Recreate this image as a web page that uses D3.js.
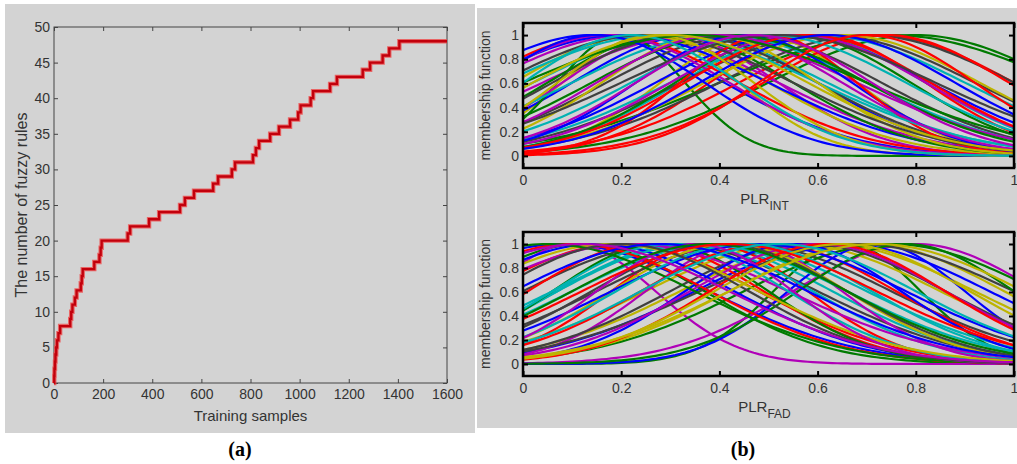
<!DOCTYPE html>
<html>
<head>
<meta charset="utf-8">
<script src="https://cdn.jsdelivr.net/npm/d3@7"></script>
<style>
  body { margin: 0; background: #fff; }
  svg { display: block; font-family: "Liberation Sans", Arial, sans-serif; }
  .cap { font-family: "Liberation Serif", "Times New Roman", serif; font-weight: bold; }
</style>
</head>
<body>
<svg id="fig" width="1017" height="464"></svg>
<script>
// (a) number of fuzzy rules vs training samples (step changes)
const ruleStart = [0, 1, 2, 4, 6, 9, 12, 18, 25, 66, 70, 75, 85, 92, 109, 113, 117, 164, 185, 190, 194, 300, 310, 387, 428, 513, 533, 570, 648, 668, 724, 737, 810, 822, 835, 880, 916, 961, 994, 1004, 1045, 1055, 1124, 1152, 1257, 1287, 1338, 1365, 1406, 1600];
const ruleCount = [0, 1, 2, 3, 4, 5, 6, 7, 8, 9, 10, 11, 12, 13, 14, 15, 16, 17, 18, 19, 20, 21, 22, 23, 24, 25, 26, 27, 28, 29, 30, 31, 32, 33, 34, 35, 36, 37, 38, 39, 40, 41, 42, 43, 44, 45, 46, 47, 48, 48];
const xTicksA = [0, 200, 400, 600, 800, 1000, 1200, 1400, 1600];
const yTicksA = [0, 5, 10, 15, 20, 25, 30, 35, 40, 45, 50];

// (b) gaussian membership functions, one per rule (center, width)
const intCenters = [0.14, 0.80, 0.72, 0.57, 0.22, 0.26, 0.45, 0.35, 0.20, 0.60, 0.32, 0.30, 0.48, 0.62, 0.55, 0.75, 0.17, 0.40, 0.36, 0.24, 0.70, 0.20, 0.30, 0.74, 0.60, 0.17, 0.65, 0.33, 0.45, 0.55, 0.50, 0.28, 0.56, 0.38, 0.25, 0.15, 0.42, 0.58, 0.50, 0.40, 0.27, 0.52, 0.62, 0.35, 0.70, 0.22, 0.47, 0.30];
const intSigmas  = [0.27, 0.30, 0.28, 0.25, 0.30, 0.18, 0.28, 0.25, 0.13, 0.22, 0.30, 0.22, 0.20, 0.30, 0.28, 0.35, 0.27, 0.30, 0.32, 0.26, 0.30, 0.30, 0.25, 0.25, 0.30, 0.25, 0.28, 0.27, 0.22, 0.24, 0.18, 0.32, 0.26, 0.22, 0.30, 0.22, 0.28, 0.25, 0.28, 0.25, 0.20, 0.32, 0.26, 0.35, 0.22, 0.22, 0.24, 0.28];
const fadCenters = [0.08, 0.66, 0.20, 0.35, 0.80, 0.55, 0.30, 0.65, 0.12, 0.38, 0.40, 0.10, 0.62, 0.45, 0.72, 0.75, 0.25, 0.33, 0.45, 0.70, 0.58, 0.15, 0.28, 0.50, 0.36, 0.22, 0.42, 0.68, 0.55, 0.78, 0.10, 0.30, 0.60, 0.18, 0.40, 0.48, 0.05, 0.62, 0.45, 0.35, 0.65, 0.20, 0.28, 0.38, 0.42, 0.52, 0.12, 0.72];
const fadSigmas  = [0.30, 0.15, 0.28, 0.28, 0.25, 0.30, 0.30, 0.30, 0.25, 0.20, 0.30, 0.17, 0.30, 0.30, 0.18, 0.30, 0.24, 0.26, 0.20, 0.28, 0.28, 0.28, 0.22, 0.26, 0.30, 0.32, 0.24, 0.32, 0.22, 0.22, 0.28, 0.24, 0.26, 0.30, 0.26, 0.30, 0.30, 0.24, 0.26, 0.20, 0.26, 0.26, 0.30, 0.28, 0.30, 0.28, 0.30, 0.30];
const xTicksB = [0, 0.2, 0.4, 0.6, 0.8, 1];
const yTicksB = [0, 0.2, 0.4, 0.6, 0.8, 1];
const lineColors = ["#0000ff", "#007a00", "#ff0000", "#00b2b2", "#b000b8", "#bdb400", "#404040"];

const svg = d3.select("#fig");
const fmtB = d => (d === 0 || d === 1) ? String(d) : d3.format(".1f")(d);

// ---------- panel (a) ----------
svg.append("rect").attr("x", 5).attr("y", 4).attr("width", 470).attr("height", 429).attr("fill", "#d3d3d3");

const ax = {l: 54, r: 447, t: 27, b: 383};
const xA = d3.scaleLinear().domain([0, 1600]).range([ax.l, ax.r]);
const yA = d3.scaleLinear().domain([0, 50]).range([ax.b, ax.t]);
const gA = svg.append("g");

function styleAxis(g, col, sw) {
  g.select(".domain").remove();
  g.selectAll(".tick line").attr("stroke", col).attr("stroke-width", sw);
  g.selectAll(".tick text").attr("fill", "#333").style("font-family", "Liberation Sans, Arial, sans-serif");
}

gA.append("g").attr("transform", `translate(0,${ax.b})`)
  .call(d3.axisBottom(xA).tickValues(xTicksA).tickSize(-4).tickSizeOuter(0).tickPadding(6).tickFormat(d3.format("d")))
  .call(g => { styleAxis(g, "#444", 1); g.selectAll("text").attr("font-size", 14); });
gA.append("g").attr("transform", `translate(0,${ax.t})`)
  .call(d3.axisTop(xA).tickValues(xTicksA).tickSize(-4).tickSizeOuter(0).tickFormat(""))
  .call(g => styleAxis(g, "#444", 1));
gA.append("g").attr("transform", `translate(${ax.l},0)`)
  .call(d3.axisLeft(yA).tickValues(yTicksA).tickSize(-4).tickSizeOuter(0).tickPadding(4).tickFormat(d3.format("d")))
  .call(g => { styleAxis(g, "#444", 1); g.selectAll("text").attr("font-size", 14); });
gA.append("g").attr("transform", `translate(${ax.r},0)`)
  .call(d3.axisRight(yA).tickValues(yTicksA).tickSize(-4).tickSizeOuter(0).tickFormat(""))
  .call(g => styleAxis(g, "#444", 1));
gA.append("rect").attr("x", ax.l).attr("y", ax.t).attr("width", ax.r - ax.l).attr("height", ax.b - ax.t)
  .attr("fill", "none").attr("stroke", "#444").attr("stroke-width", 1);

const stepPts = ruleStart.map((s, i) => [s, ruleCount[i]]);
const stepLine = d3.line().x(d => xA(d[0])).y(d => yA(d[1])).curve(d3.curveStepAfter);
gA.append("path").attr("d", stepLine(stepPts)).attr("fill", "none")
  .attr("stroke", "#ee4a4a").attr("stroke-width", 4.4).attr("stroke-opacity", 0.8);
gA.append("path").attr("d", stepLine(stepPts)).attr("fill", "none")
  .attr("stroke", "#c2000c").attr("stroke-width", 2.3);

gA.append("text").attr("x", (ax.l + ax.r) / 2).attr("y", 421).attr("text-anchor", "middle")
  .attr("font-size", 15).attr("fill", "#333").text("Training samples");
gA.append("text").attr("transform", `translate(27,${(ax.t + ax.b) / 2}) rotate(-90)`)
  .attr("text-anchor", "middle").attr("font-size", 16).attr("fill", "#333").text("The number of fuzzy rules");

svg.append("text").attr("class", "cap").attr("x", 240).attr("y", 456).attr("text-anchor", "middle")
  .attr("font-size", 20).text("(a)");

// ---------- panel (b) ----------
svg.append("rect").attr("x", 477).attr("y", 8).attr("width", 540).attr("height", 420).attr("fill", "#d3d3d3");

const xB = d3.scaleLinear().domain([0, 1]).range([523, 1014]);
const grid = d3.range(0, 101).map(i => i / 100);

function memPanel(top, bottom, centers, sigmas, sub, id) {
  const yB = d3.scaleLinear().domain([-0.1, 1.1]).range([bottom, top]);
  const g = svg.append("g");
  g.append("clipPath").attr("id", id).append("rect")
    .attr("x", xB(0)).attr("y", top).attr("width", xB(1) - xB(0)).attr("height", bottom - top);

  const line = d3.line().x(d => xB(d[0])).y(d => yB(d[1]));
  const curves = g.append("g").attr("clip-path", `url(#${id})`);
  centers.forEach((c, i) => {
    const s = sigmas[i];
    const pts = grid.map(x => [x, Math.exp(-((x - c) * (x - c)) / (2 * s * s))]);
    curves.append("path").attr("d", line(pts)).attr("fill", "none")
      .attr("stroke", lineColors[i % lineColors.length]).attr("stroke-width", 2.2);
  });

  g.append("g").attr("transform", `translate(0,${bottom})`)
    .call(d3.axisBottom(xB).tickValues(xTicksB).tickSize(-5).tickSizeOuter(0).tickPadding(7).tickFormat(fmtB))
    .call(a => { styleAxis(a, "#000", 2); a.selectAll("text").attr("font-size", 14); });
  g.append("g").attr("transform", `translate(0,${top})`)
    .call(d3.axisTop(xB).tickValues(xTicksB).tickSize(-5).tickSizeOuter(0).tickFormat(""))
    .call(a => styleAxis(a, "#000", 2));
  g.append("g").attr("transform", `translate(${xB(0)},0)`)
    .call(d3.axisLeft(yB).tickValues(yTicksB).tickSize(-5).tickSizeOuter(0).tickPadding(4).tickFormat(fmtB))
    .call(a => { styleAxis(a, "#000", 2); a.selectAll("text").attr("font-size", 14); });
  g.append("g").attr("transform", `translate(${xB(1)},0)`)
    .call(d3.axisRight(yB).tickValues(yTicksB).tickSize(-5).tickSizeOuter(0).tickFormat(""))
    .call(a => styleAxis(a, "#000", 2));
  g.append("rect").attr("x", xB(0)).attr("y", top).attr("width", xB(1) - xB(0)).attr("height", bottom - top)
    .attr("fill", "none").attr("stroke", "#000").attr("stroke-width", 2.5);

  const lab = g.append("text").attr("x", (xB(0) + xB(1)) / 2 - 4).attr("y", bottom + 36)
    .attr("text-anchor", "middle").attr("font-size", 15).attr("fill", "#333");
  lab.append("tspan").text("PLR");
  lab.append("tspan").attr("dy", 6).attr("font-size", 12).text(sub);

  g.append("text").attr("transform", `translate(490,${(top + bottom) / 2}) rotate(-90)`)
    .attr("text-anchor", "middle").attr("font-size", 14).attr("fill", "#333").text("membership function");
}

memPanel(23, 168, intCenters, intSigmas, "INT", "clipInt");
memPanel(232, 376, fadCenters, fadSigmas, "FAD", "clipFad");

svg.append("text").attr("class", "cap").attr("x", 743).attr("y", 456).attr("text-anchor", "middle")
  .attr("font-size", 20).text("(b)");
</script>
</body>
</html>
